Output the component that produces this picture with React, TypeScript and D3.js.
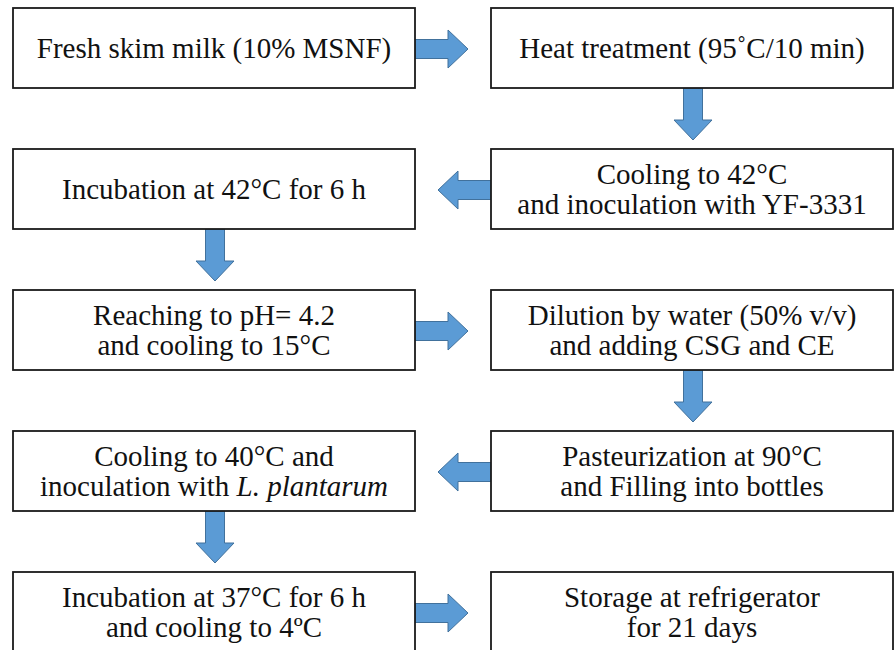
import React, { useEffect, useRef } from 'react';
import * as d3 from 'd3';

// Flow steps, in order. Each step is placed on a row and a column (0 = left, 1 = right).
const STEP_LINES: string[][] = [
  ['Fresh skim milk (10% MSNF)'],
  ['Heat treatment (95˚C/10 min)'],
  ['Cooling to 42°C', 'and inoculation with YF-3331'],
  ['Incubation at 42°C for 6 h'],
  ['Reaching to pH= 4.2', 'and cooling to 15°C'],
  ['Dilution by water (50% v/v)', 'and adding CSG and CE'],
  ['Pasteurization at 90°C', 'and Filling into bottles'],
  ['Cooling to 40°C and', 'inoculation with |L. plantarum|'],
  ['Incubation at 37°C for 6 h', 'and cooling to 4ºC'],
  ['Storage at refrigerator', 'for 21 days'],
];
const STEP_ROWS = [0, 0, 1, 1, 2, 2, 3, 3, 4, 4];
const STEP_COLS = [0, 1, 1, 0, 0, 1, 1, 0, 0, 1];

const ROWS = [0, 1, 2, 3, 4];
const COLS = [0, 1];

const W = 896;
const H = 650;
const BOX_W = 402;
const BOX_H = 80;
const FONT = 29;
const LINE_GAP = 30;
const FONT_FAMILY = "'Liberation Serif', Tinos, 'Times New Roman', 'DejaVu Serif', serif";

const ARROW_FILL = '#5b9bd5';
const ARROW_STROKE = '#41719c';

const App: React.FC = () => {
  const svgRef = useRef<SVGSVGElement>(null);

  useEffect(() => {
    if (!svgRef.current) return;
    const svg = d3.select(svgRef.current);
    svg.selectAll('*').remove();

    // row index -> box top, column index -> box left
    const yRow = d3.scaleLinear().domain([0, ROWS.length - 1]).range([8, 572]);
    const xCol = d3.scaleOrdinal<number, number>().domain(COLS).range([13, 491]);
    const rowGap = yRow(1) - yRow(0);

    const steps = STEP_LINES.map((lines, i) => ({
      lines,
      x: xCol(STEP_COLS[i]),
      y: yRow(STEP_ROWS[i]),
    }));

    // ===== ARROWS =====
    const shaft = 9.5;
    const head = 19;
    const headLen = 20;
    const arrowG = svg.append('g');

    for (let i = 0; i < steps.length - 1; i++) {
      const a = steps[i];
      const b = steps[i + 1];
      let pts: [number, number][];
      if (STEP_ROWS[i] === STEP_ROWS[i + 1]) {
        // horizontal arrow between columns
        const dir = b.x > a.x ? 1 : -1;
        const x0 = dir > 0 ? a.x + BOX_W : a.x;
        const x1 = x0 + dir * 53;
        const xh = x1 - dir * headLen;
        const cy = a.y + BOX_H / 2 + 1;
        pts = [
          [x0, cy - shaft], [xh, cy - shaft], [xh, cy - head], [x1, cy],
          [xh, cy + head], [xh, cy + shaft], [x0, cy + shaft],
        ];
      } else {
        // vertical arrow down to next row
        const cx = a.x + BOX_W / 2 + 1;
        const y0 = a.y + BOX_H;
        const y1 = y0 + rowGap - BOX_H - 9;
        const yh = y1 - headLen;
        pts = [
          [cx - shaft, y0], [cx - shaft, yh], [cx - head, yh], [cx, y1],
          [cx + head, yh], [cx + shaft, yh], [cx + shaft, y0],
        ];
      }
      arrowG.append('path')
        .attr('d', d3.line()(pts) + 'Z')
        .attr('fill', ARROW_FILL)
        .attr('stroke', ARROW_STROKE)
        .attr('stroke-width', 1);
    }

    // ===== BOXES =====
    const boxG = svg.selectAll('.step')
      .data(steps)
      .enter()
      .append('g')
      .attr('class', 'step')
      .attr('transform', (d) => `translate(${d.x},${d.y})`);

    boxG.append('rect')
      .attr('width', BOX_W)
      .attr('height', BOX_H)
      .attr('fill', '#fff')
      .attr('stroke', '#1a1a1a')
      .attr('stroke-width', 1.8);

    boxG.each(function (d) {
      const g = d3.select(this);
      const n = d.lines.length;
      d.lines.forEach((line, li) => {
        const baseline = BOX_H / 2 + 10 + (li - (n - 1) / 2) * LINE_GAP;
        const text = g.append('text')
          .attr('x', BOX_W / 2)
          .attr('y', baseline)
          .attr('text-anchor', 'middle')
          .style('font-family', FONT_FAMILY)
          .style('font-size', `${FONT}px`)
          .attr('fill', '#111');
        // parts between | | are italic
        line.split('|').forEach((part, pi) => {
          if (!part) return;
          text.append('tspan')
            .style('font-style', pi % 2 === 1 ? 'italic' : 'normal')
            .text(part);
        });
      });
    });
  }, []);

  return (
    <svg
      ref={svgRef}
      width={W}
      height={H}
      style={{ display: 'block', position: 'fixed', left: 0, top: 0, background: '#fff' }}
    />
  );
};

export default App;
